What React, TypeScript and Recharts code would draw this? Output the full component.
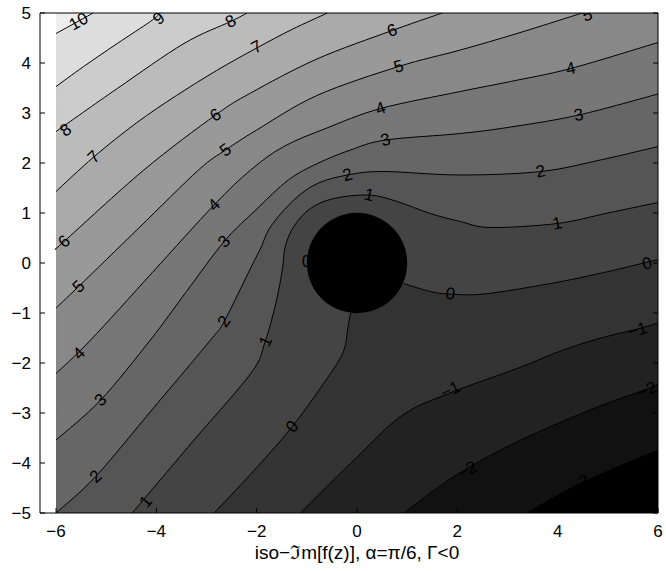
import React from "react";
import { ScatterChart, Scatter, XAxis, YAxis } from "recharts";

type Pt = [number, number];

const FONT = '"Liberation Sans", Arial, Helvetica, sans-serif';
const W = 666;
const H = 571;

const X_TICKS = [-6, -4, -2, 0, 2, 4, 6];
const Y_TICKS = [-5, -4, -3, -2, -1, 0, 1, 2, 3, 4, 5];
const X_DOMAIN: [number, number] = [-6.32, 6];
const Y_DOMAIN: [number, number] = [-5, 5];
const X_LABEL = "iso\u2212\u2111m[f(z)], \u03b1=\u03c0/6, \u0393<0";

// field box (computed region) and the body
const FIELD_BOX: Pt[] = [[-6, -5], [6, -5], [6, 5], [-6, 5]];
const CYLINDER: Pt[] = [[-1, 0], [1, 0]];

// iso-lines, (x, y)
const cM3: Pt[] = [[3.39, -5], [4.45, -4.41], [6, -3.74]];
const cM2: Pt[] = [[0.93, -5], [1.87, -4.31], [2.86, -3.74], [3.86, -3.27], [4.82, -2.87], [5.78, -2.52], [6, -2.42]];
const cM1: Pt[] = [[-1.13, -5], [-0.13, -4.01], [0.87, -3.07], [1.8, -2.62], [3.19, -2.11], [4.06, -1.76], [4.79, -1.52], [5.59, -1.32], [6, -1.2]];
const c0a: Pt[] = [[-2.85, -5], [-2.1, -4.2], [-1.29, -3.27], [-0.53, -2.21], [-0.26, -1.74], [-0.19, -1.34], [-0.13, -1.0]];
const c0b: Pt[] = [[0.93, -0.41], [1.46, -0.57], [1.86, -0.62], [2.53, -0.62], [3.86, -0.41], [4.92, -0.19], [6, 0.07]];
const c1: Pt[] = [[-4.48, -5], [-3.3, -3.6], [-2.12, -2.21], [-1.84, -1.6], [-1.62, -0.81], [-1.49, -0.14], [-1.43, 0.33], [-1.26, 0.73], [-0.93, 1.09], [-0.46, 1.29], [0.24, 1.36], [0.8, 1.23], [1.46, 0.99], [2.06, 0.83], [2.66, 0.71], [3.99, 0.79], [5, 1.0], [6, 1.21]];
const c2: Pt[] = [[-6, -5], [-5.21, -4.27], [-4.05, -2.89], [-2.92, -1.54], [-2.65, -1.17], [-2.12, -0.1], [-1.92, 0.3], [-1.72, 0.73], [-1.26, 1.26], [-0.79, 1.59], [-0.19, 1.76], [0.53, 1.83], [2.06, 1.76], [3.66, 1.83], [4.85, 2.06], [6, 2.33]];
const c3: Pt[] = [[-6, -3.54], [-5.11, -2.74], [-4.12, -1.54], [-3.4, -0.57], [-2.65, 0.43], [-2.02, 1.06], [-1.37, 1.66], [-0.79, 1.99], [-0.13, 2.26], [0.57, 2.46], [2.06, 2.59], [3.13, 2.73], [4.42, 2.96], [6, 3.38]];
const c4: Pt[] = [[-6, -2.21], [-5.31, -1.54], [-4.08, -0.19], [-2.85, 1.16], [-2.12, 1.86], [-1.46, 2.33], [-0.6, 2.7], [0.47, 3.09], [2.06, 3.43], [3.06, 3.63], [4.26, 3.89], [6, 4.41]];
const c5: Pt[] = [[-6, -0.9], [-5.55, -0.47], [-4.35, 0.7], [-3.16, 1.86], [-2.62, 2.26], [-2.0, 2.66], [-0.8, 3.35], [0.83, 3.93], [2.06, 4.26], [3.19, 4.59], [4.49, 5]];
const c6: Pt[] = [[-6, 0.29], [-5.84, 0.43], [-4.25, 1.86], [-2.82, 2.96], [-2.12, 3.4], [-0.8, 4.08], [0.7, 4.65], [1.7, 5]];
const c7: Pt[] = [[-6, 1.43], [-5.25, 2.12], [-4.4, 2.8], [-3.6, 3.35], [-2.8, 3.85], [-2.0, 4.3], [-1.3, 4.67], [-0.59, 5]];
const c8: Pt[] = [[-6, 2.63], [-4.78, 3.49], [-3.45, 4.39], [-2.52, 4.83], [-2.19, 5]];
const c9: Pt[] = [[-6, 3.53], [-5.45, 3.93], [-4.78, 4.39], [-4.12, 4.83], [-3.92, 5]];
const c10: Pt[] = [[-6, 4.59], [-5.55, 4.84], [-5.26, 5]];

const CONTOURS: { level: number; parts: Pt[][] }[] = [
  { level: -3, parts: [cM3] },
  { level: -2, parts: [cM2] },
  { level: -1, parts: [cM1] },
  { level: 0, parts: [c0a, c0b] },
  { level: 1, parts: [c1] },
  { level: 2, parts: [c2] },
  { level: 3, parts: [c3] },
  { level: 4, parts: [c4] },
  { level: 5, parts: [c5] },
  { level: 6, parts: [c6] },
  { level: 7, parts: [c7] },
  { level: 8, parts: [c8] },
  { level: 9, parts: [c9] },
  { level: 10, parts: [c10] },
];

// inline contour labels (position, level)
const LABELS: { x: number; y: number; level: number; onBody?: boolean }[] = [
  { x: -5.55, y: 4.83, level: 10 },
  { x: -3.95, y: 4.89, level: 9 },
  { x: -2.52, y: 4.83, level: 8 },
  { x: -5.81, y: 2.66, level: 8 },
  { x: -5.25, y: 2.12, level: 7 },
  { x: -2.0, y: 4.32, level: 7 },
  { x: -2.82, y: 2.96, level: 6 },
  { x: 0.7, y: 4.65, level: 6 },
  { x: -5.84, y: 0.43, level: 6 },
  { x: -2.62, y: 2.26, level: 5 },
  { x: 0.83, y: 3.93, level: 5 },
  { x: 4.59, y: 4.96, level: 5 },
  { x: -5.55, y: -0.47, level: 5 },
  { x: -2.85, y: 1.16, level: 4 },
  { x: 0.47, y: 3.09, level: 4 },
  { x: 4.26, y: 3.89, level: 4 },
  { x: -5.54, y: -1.81, level: 4 },
  { x: -2.65, y: 0.43, level: 3 },
  { x: 0.57, y: 2.46, level: 3 },
  { x: 4.42, y: 2.96, level: 3 },
  { x: -5.11, y: -2.74, level: 3 },
  { x: -2.65, y: -1.17, level: 2 },
  { x: -0.19, y: 1.76, level: 2 },
  { x: 3.66, y: 1.83, level: 2 },
  { x: -5.21, y: -4.27, level: 2 },
  { x: -4.21, y: -4.77, level: 1 },
  { x: -1.82, y: -1.57, level: 1 },
  { x: 0.24, y: 1.36, level: 1 },
  { x: 3.99, y: 0.79, level: 1 },
  { x: -1.01, y: 0.03, level: 0, onBody: true },
  { x: 1.86, y: -0.62, level: 0 },
  { x: 5.78, y: -0.01, level: 0 },
  { x: -1.29, y: -3.27, level: 0 },
  { x: 1.86, y: -2.54, level: -1 },
  { x: 5.59, y: -1.34, level: -1 },
  { x: 2.2, y: -4.14, level: -2 },
  { x: 5.78, y: -2.54, level: -2 },
  { x: 4.45, y: -4.41, level: -3 },
];

const fmt = (v: number) => (v < 0 ? `\u2212${-v}` : `${v}`);
const toObj = (a: Pt[]) => a.map(([x, y]) => ({ x, y }));

const shade = (level: number) => {
  const g = 17 * (level + 4);
  return `rgb(${g},${g},${g})`;
};

// closing corners for the region on the high side of a line
const closeCorners = (parts: Pt[][]): Pt[] => {
  const first = parts[0][0];
  const lastPart = parts[parts.length - 1];
  const last = lastPart[lastPart.length - 1];
  const out: Pt[] = [];
  if (last[0] >= 6) out.push([6, 5]);
  out.push([-6, 5]);
  if (first[1] <= -5) out.push([-6, -5]);
  return out;
};

const labelAngle = (lab: { x: number; y: number; level: number; onBody?: boolean }) => {
  if (lab.onBody) return 0;
  const c = CONTOURS.find((k) => k.level === lab.level);
  if (!c) return 0;
  let best = Infinity;
  let ang = 0;
  c.parts.forEach((part) => {
    for (let i = 0; i < part.length - 1; i++) {
      const mx = (part[i][0] + part[i + 1][0]) / 2;
      const my = (part[i][1] + part[i + 1][1]) / 2;
      const d = (mx - lab.x) ** 2 + (my - lab.y) ** 2;
      if (d < best) {
        best = d;
        ang = (Math.atan2(part[i + 1][1] - part[i][1], part[i + 1][0] - part[i][0]) * 180) / Math.PI;
      }
    }
  });
  return ang;
};

type XY = { x: number; y: number };

function smoothPath(pts: XY[], start = "M") {
  let d = `${start}${pts[0].x},${pts[0].y}`;
  for (let i = 0; i < pts.length - 1; i++) {
    const p0 = pts[Math.max(i - 1, 0)];
    const p1 = pts[i];
    const p2 = pts[i + 1];
    const p3 = pts[Math.min(i + 2, pts.length - 1)];
    const c1x = p1.x + (p2.x - p0.x) / 6;
    const c1y = p1.y + (p2.y - p0.y) / 6;
    const c2x = p2.x - (p3.x - p1.x) / 6;
    const c2y = p2.y - (p3.y - p1.y) / 6;
    d += ` C${c1x},${c1y} ${c2x},${c2y} ${p2.x},${p2.y}`;
  }
  return d;
}

const NoDot = () => <g />;

const regionFill = (lens: number[], fill: string) => (p: any) => {
  const pts = p.points as XY[];
  let d = "";
  let k = 0;
  lens.forEach((n, i) => {
    d += smoothPath(pts.slice(k, k + n), i === 0 ? "M" : " L");
    k += n;
  });
  for (; k < pts.length; k++) d += ` L${pts[k].x},${pts[k].y}`;
  return <path d={d + " Z"} fill={fill} stroke="none" />;
};

const isoStroke = (p: any) => (
  <path d={smoothPath(p.points as XY[])} fill="none" stroke="#000" strokeWidth={1} />
);

const boxFill = (p: any) => {
  const pts = p.points as XY[];
  return <polygon points={pts.map((q) => `${q.x},${q.y}`).join(" ")} fill="#000" />;
};

const bodyShape = (p: any) => {
  const [a, b] = p.points as XY[];
  return <circle cx={(a.x + b.x) / 2} cy={(a.y + b.y) / 2} r={Math.abs(b.x - a.x) / 2} fill="#000" />;
};

const LabelShape = (props: any) => {
  const { cx, cy, payload } = props;
  return (
    <text
      x={cx}
      y={cy}
      transform={`rotate(${-payload.angle} ${cx} ${cy})`}
      textAnchor="middle"
      dominantBaseline="central"
      fontSize={17}
      fontFamily={FONT}
      fill="#000"
    >
      {payload.text}
    </text>
  );
};

export default function App() {
  const labelData = LABELS.map((l) => ({ x: l.x, y: l.y, text: fmt(l.level), angle: labelAngle(l) }));
  const axisTick = { fontSize: 17, fill: "#000", fontFamily: FONT };

  return (
    <div style={{ position: "absolute", left: 0, top: 0, width: W, height: H, fontFamily: FONT, background: "#fff" }}>
      <ScatterChart width={W} height={H} margin={{ top: 0, right: 0, bottom: 0, left: 0 }}>
        <Scatter
          data={toObj(FIELD_BOX)}
          xAxisId="x"
          yAxisId="y"
          shape={NoDot}
          line={boxFill}
          isAnimationActive={false}
        />
        {CONTOURS.map((c) => (
          <Scatter
            key={`fill${c.level}`}
            data={toObj([...c.parts.flat(), ...closeCorners(c.parts)])}
            xAxisId="x"
            yAxisId="y"
            shape={NoDot}
            line={regionFill(c.parts.map((p) => p.length), shade(c.level))}
            isAnimationActive={false}
          />
        ))}
        {CONTOURS.flatMap((c) =>
          c.parts.map((part, i) => (
            <Scatter
              key={`iso${c.level}_${i}`}
              data={toObj(part)}
              xAxisId="x"
              yAxisId="y"
              shape={NoDot}
              line={isoStroke}
              isAnimationActive={false}
            />
          ))
        )}
        <Scatter
          data={labelData}
          xAxisId="x"
          yAxisId="y"
          shape={LabelShape}
          isAnimationActive={false}
        />
        <Scatter
          data={toObj(CYLINDER)}
          xAxisId="x"
          yAxisId="y"
          shape={NoDot}
          line={bodyShape}
          isAnimationActive={false}
        />
        <XAxis
          xAxisId="x"
          dataKey="x"
          type="number"
          domain={X_DOMAIN}
          allowDataOverflow
          ticks={X_TICKS}
          interval={0}
          tickFormatter={fmt}
          height={58}
          tickSize={-5}
          tickMargin={17}
          axisLine={{ stroke: "#000" }}
          tickLine={{ stroke: "#000" }}
          tick={axisTick}
          zIndex={700}
          label={{ value: X_LABEL, position: "insideBottom", offset: 12, dx: 8, fontSize: 19, fill: "#000", fontFamily: FONT }}
        />
        <XAxis
          xAxisId="xt"
          orientation="top"
          type="number"
          domain={X_DOMAIN}
          allowDataOverflow
          ticks={X_TICKS}
          interval={0}
          tickFormatter={() => ""}
          height={13}
          tickSize={-5}
          axisLine={{ stroke: "#000" }}
          tickLine={{ stroke: "#000" }}
          zIndex={700}
        />
        <YAxis
          yAxisId="y"
          dataKey="y"
          type="number"
          domain={Y_DOMAIN}
          allowDataOverflow
          ticks={Y_TICKS}
          interval={0}
          tickFormatter={fmt}
          width={40}
          tickSize={-5}
          tickMargin={14}
          axisLine={{ stroke: "#000" }}
          tickLine={{ stroke: "#000" }}
          tick={axisTick}
          zIndex={700}
        />
        <YAxis
          yAxisId="yr"
          orientation="right"
          type="number"
          domain={Y_DOMAIN}
          allowDataOverflow
          ticks={Y_TICKS}
          interval={0}
          tickFormatter={() => ""}
          width={8}
          tickSize={-5}
          axisLine={{ stroke: "#000" }}
          tickLine={{ stroke: "#000" }}
          zIndex={700}
        />
      </ScatterChart>
    </div>
  );
}
